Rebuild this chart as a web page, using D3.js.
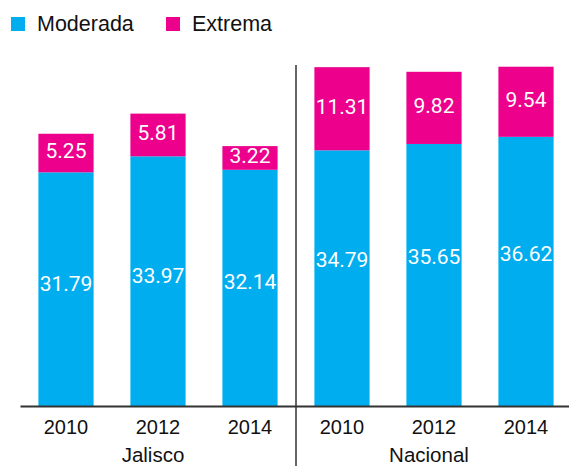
<!DOCTYPE html>
<html>
<head>
<meta charset="utf-8">
<script src="https://cdn.jsdelivr.net/npm/d3@7"></script>
<style>
  html, body { margin: 0; padding: 0; background: #fff; }
  svg { display: block; }
</style>
</head>
<body>
<svg id="chart" width="569" height="466"></svg>
<script>
// ---- data ----
const groups = ["Jalisco", "Nacional"];
const years = ["2010", "2012", "2014"];
const seriesNames = ["Moderada", "Extrema"];
const moderada = [31.79, 33.97, 32.14, 34.79, 35.65, 36.62];
const extrema = [5.25, 5.81, 3.22, 11.31, 9.82, 9.54];

const colors = { Moderada: "#00AEEF", Extrema: "#EC008C" };

// build rows
const rows = [];
groups.forEach((g, gi) => years.forEach((yr, yi) => {
  const i = gi * years.length + yi;
  rows.push({ key: g + "-" + yr, group: g, year: yr, Moderada: moderada[i], Extrema: extrema[i] });
}));

const svg = d3.select("#chart");
const baseY = 406;

const x = d3.scaleBand()
  .domain(rows.map(d => d.key))
  .range([20, 572])
  .paddingInner(0.4)
  .paddingOuter(0.2);

const y = d3.scaleLinear().domain([0, 50]).range([baseY, baseY - 367.5]);

const stack = d3.stack().keys(seriesNames);
const stacked = stack(rows);

// bars
const layer = svg.append("g").selectAll("g")
  .data(stacked).join("g")
  .attr("fill", s => colors[s.key]);

layer.selectAll("rect")
  .data(s => s.map(p => ({ p, key: s.key })))
  .join("rect")
  .attr("x", d => x(d.p.data.key))
  .attr("width", x.bandwidth())
  .attr("y", d => y(d.p[1]))
  .attr("height", d => y(d.p[0]) - y(d.p[1]));

// value labels
layer.selectAll("text")
  .data(s => s.map(p => ({ p, key: s.key })))
  .join("text")
  .attr("x", d => x(d.p.data.key) + x.bandwidth() / 2)
  .attr("y", d => {
    const c = (y(d.p[0]) + y(d.p[1])) / 2;
    if (d.key === "Moderada") return c - (d.p.data.group === "Jalisco" ? 6 : 18);
    return c - 2;
  })
  .attr("dy", "0.35em")
  .attr("text-anchor", "middle")
  .attr("fill", "#fff")
  .style("font-family", "Roboto, 'Liberation Sans', sans-serif")
  .style("font-size", "21px")
  .text(d => d.p.data[d.key].toFixed(2));

// x axis
const axis = d3.axisBottom(x)
  .tickSizeInner(0).tickSizeOuter(0).tickPadding(14)
  .tickFormat(k => rows.find(r => r.key === k).year);

const gAxis = svg.append("g")
  .attr("transform", `translate(0,${baseY})`)
  .call(axis);
gAxis.select(".domain").attr("stroke", "#333").attr("stroke-width", 2);
gAxis.selectAll("text")
  .attr("fill", "#111")
  .style("font-family", "'Liberation Sans', Arial, sans-serif")
  .style("font-size", "20px");

// group labels
groups.forEach((g, gi) => {
  const mid = rows[gi * years.length + 1].key;
  svg.append("text")
    .attr("x", x(mid) + x.bandwidth() / 2 - 5)
    .attr("y", 462)
    .attr("text-anchor", "middle")
    .attr("fill", "#111")
    .style("font-family", "'Liberation Sans', Arial, sans-serif")
    .style("font-size", "20.5px")
    .text(g);
});

// divider between groups
const divX = x(rows[years.length].key) - x.step() * x.paddingInner() / 2;
svg.append("line")
  .attr("x1", divX).attr("x2", divX)
  .attr("y1", 65).attr("y2", 466)
  .attr("stroke", "#333").attr("stroke-width", 1.5);

// legend
const legendX = [11, 166];
const leg = svg.append("g").selectAll("g")
  .data(seriesNames).join("g")
  .attr("transform", (d, i) => `translate(${legendX[i]},17)`);
leg.append("rect")
  .attr("width", 14).attr("height", 14)
  .attr("fill", d => colors[d]);
leg.append("text")
  .attr("x", 26).attr("y", 14)
  .attr("fill", "#111")
  .style("font-family", "'Liberation Sans', Arial, sans-serif")
  .style("font-size", "21.5px")
  .text(d => d);
</script>
</body>
</html>
